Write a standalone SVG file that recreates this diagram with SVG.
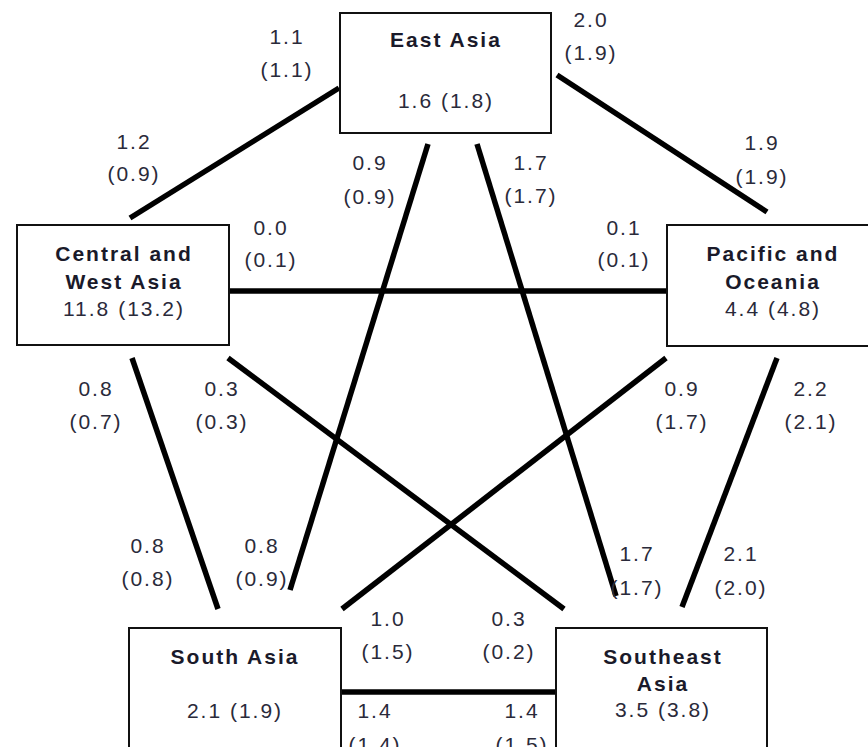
<svg xmlns="http://www.w3.org/2000/svg" width="868" height="747" viewBox="0 0 868 747">
<style>
.box{fill:#fff;stroke:#111;stroke-width:2}
.t{font-family:"Liberation Sans",Arial,sans-serif;font-size:21px;letter-spacing:2px;fill:#2a2a3a;text-anchor:middle}
.b{font-weight:bold;fill:#1a1a2a}
.c line{stroke:#000;stroke-width:5.5;stroke-linecap:butt}
</style>
<rect width="868" height="747" fill="#fff"/>
<g class="c" id="connectors">
<line x1="339" y1="88" x2="130" y2="218"/>
<line x1="557" y1="75" x2="767" y2="212"/>
<line x1="428" y1="144" x2="290" y2="590"/>
<line x1="477" y1="144" x2="616" y2="596"/>
<line x1="229" y1="291" x2="667" y2="291"/>
<line x1="132" y1="358" x2="218" y2="609"/>
<line x1="228" y1="358" x2="564" y2="609"/>
<line x1="666" y1="358" x2="342" y2="609"/>
<line x1="777" y1="358" x2="682" y2="607"/>
<line x1="341" y1="692" x2="556" y2="692"/>
</g>
<g id="labels" class="t">
<text x="287" y="44">1.1</text><text x="287" y="77">(1.1)</text>
<text x="134" y="149">1.2</text><text x="134" y="181">(0.9)</text>
<text x="370" y="170">0.9</text><text x="370" y="204">(0.9)</text>
<text x="271" y="235">0.0</text><text x="271" y="267">(0.1)</text>
<text x="591" y="27">2.0</text><text x="591" y="60">(1.9)</text>
<text x="762" y="150">1.9</text><text x="762" y="184">(1.9)</text>
<text x="531" y="170">1.7</text><text x="531" y="203">(1.7)</text>
<text x="624" y="235">0.1</text><text x="624" y="267">(0.1)</text>
<text x="96" y="396">0.8</text><text x="96" y="429">(0.7)</text>
<text x="222" y="396">0.3</text><text x="222" y="429">(0.3)</text>
<text x="148" y="553">0.8</text><text x="148" y="586">(0.8)</text>
<text x="262" y="553">0.8</text><text x="262" y="586">(0.9)</text>
<text x="388" y="626">1.0</text><text x="388" y="659">(1.5)</text>
<text x="375" y="718">1.4</text><text x="375" y="752">(1.4)</text>
<text x="682" y="396">0.9</text><text x="682" y="429">(1.7)</text>
<text x="811" y="396">2.2</text><text x="811" y="429">(2.1)</text>
<text x="637" y="561">1.7</text><text x="637" y="595">(1.7)</text>
<text x="741" y="561">2.1</text><text x="741" y="595">(2.0)</text>
<text x="509" y="626">0.3</text><text x="509" y="659">(0.2)</text>
<text x="522" y="718">1.4</text><text x="522" y="752">(1.5)</text>
</g>
<g id="east-asia">
<rect class="box" x="340" y="13" width="211" height="120"/>
<text class="t b" x="446" y="47">East Asia</text>
<text class="t" x="446" y="108">1.6 (1.8)</text>
</g>
<g id="central-west-asia">
<rect class="box" x="17" y="225" width="212" height="120"/>
<text class="t b" x="124" y="261">Central and</text>
<text class="t b" x="124" y="289">West Asia</text>
<text class="t" x="124" y="316">11.8 (13.2)</text>
</g>
<g id="pacific-oceania">
<rect class="box" x="667" y="225" width="206" height="121"/>
<text class="t b" x="773" y="261">Pacific and</text>
<text class="t b" x="773" y="289">Oceania</text>
<text class="t" x="773" y="316">4.4 (4.8)</text>
</g>
<g id="south-asia">
<rect class="box" x="129" y="628" width="212" height="130"/>
<text class="t b" x="235" y="664">South Asia</text>
<text class="t" x="235" y="718">2.1 (1.9)</text>
</g>
<g id="southeast-asia">
<rect class="box" x="556" y="628" width="211" height="130"/>
<text class="t b" x="663" y="664">Southeast</text>
<text class="t b" x="663" y="691">Asia</text>
<text class="t" x="663" y="717">3.5 (3.8)</text>
</g>
</svg>
